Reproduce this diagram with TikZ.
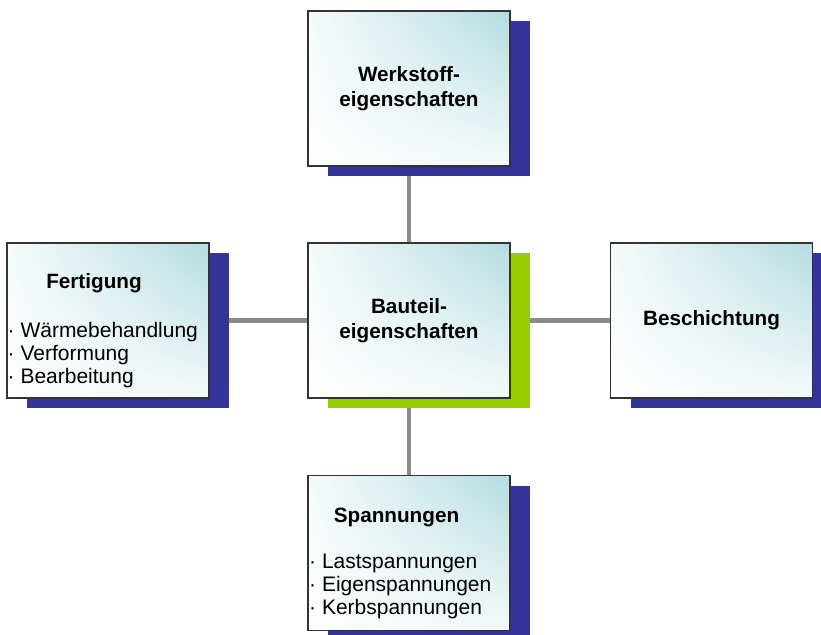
\documentclass[tikz,border=0pt]{standalone}
\usepackage{fontspec}
\setmainfont{Liberation Sans}
\usetikzlibrary{shadows,shadings,backgrounds}

\definecolor{schattenblau}{HTML}{333399}
\definecolor{schattengruen}{HTML}{99CC00}
\definecolor{tuerkis}{HTML}{B4DCE0}
\definecolor{verbindung}{HTML}{8A8A8A}

\tikzset{
  kasten/.style={draw=black!80, line width=1.4pt, minimum width=202pt,
    minimum height=155pt, inner sep=0pt, align=center,
    upper right=tuerkis, upper left=tuerkis!12, lower left=white,
    lower right=tuerkis!15,
    font=\fontsize{20.7}{25}\selectfont\bfseries,
    general shadow={fill=#1, shadow xshift=20pt, shadow yshift=-10pt}},
  kasten/.default=schattenblau,
  titel/.style={inner sep=0pt, font=\fontsize{20.7}{25}\selectfont\bfseries},
  liste/.style={inner sep=0pt, align=left, font=\fontsize{21}{23}\selectfont},
  linie/.style={verbindung, line width=4.5pt}
}

\begin{document}
\begin{tikzpicture}[x=1pt,y=-1pt]
  \useasboundingbox (0,0) rectangle (821,634);

  % Kaesten
  \node[kasten=schattengruen] (bauteil) at (409,320.5) {Bauteil-\\eigenschaften};
  \node[kasten] (werkstoff) at (409,88.5) {Werkstoff-\\eigenschaften};
  \node[kasten] (fertigung) at (108,320.5) {};
  \node[kasten] (beschichtung) at (711.5,320.5) {Beschichtung};
  \node[kasten] (spannungen) at (409,553) {};

  % Texte mit Aufzaehlung (Anker an der letzten Zeile)
  \node[titel, anchor=base] (fertigung-titel) at (94,288) {Fertigung};
  \node[liste, anchor=base west] (fertigung-liste) at (7.5,383)
    {· Wärmebehandlung\\· Verformung\\· Bearbeitung};

  \node[titel, anchor=base] (spannungen-titel) at (396.5,522) {Spannungen};
  \node[liste, anchor=base west] (spannungen-liste) at (309,614)
    {· Lastspannungen\\· Eigenspannungen\\· Kerbspannungen};

  % Verbindungen hinter den Kaesten
  \begin{scope}[on background layer]
    \draw[linie] (bauteil) -- (werkstoff);
    \draw[linie] (bauteil) -- (fertigung);
    \draw[linie] (bauteil) -- (beschichtung);
    \draw[linie] (bauteil) -- (spannungen);
  \end{scope}
\end{tikzpicture}
\end{document}
